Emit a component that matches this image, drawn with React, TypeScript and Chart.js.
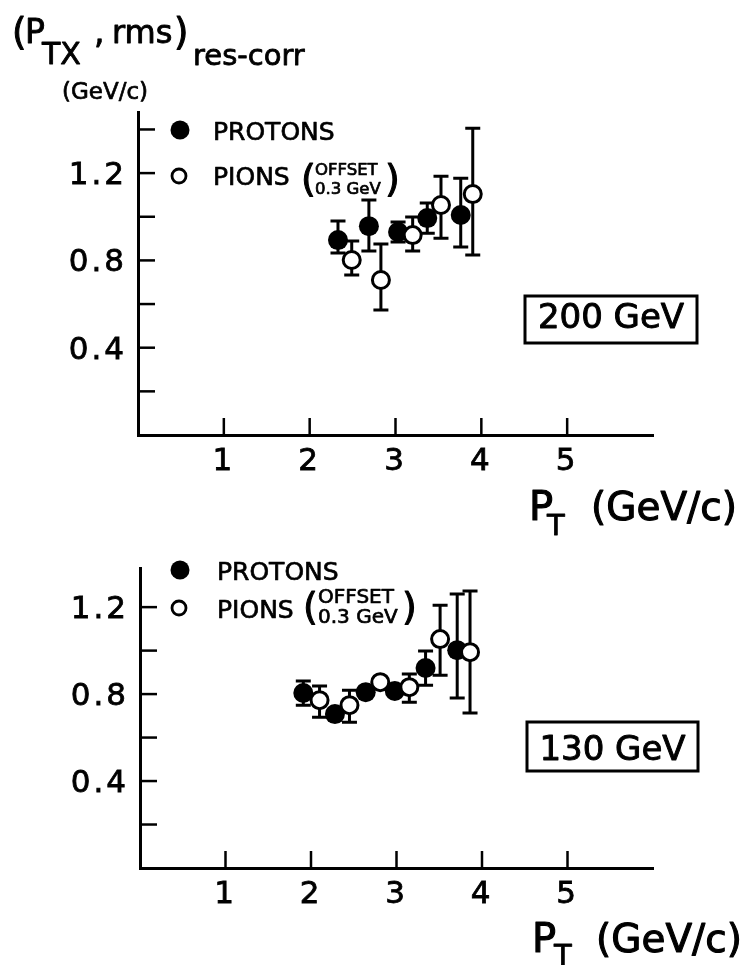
import React, { useEffect, useRef } from "react";
import { Chart, registerables } from "chart.js";
Chart.register(...registerables);

// ---------- data ----------
const X_TICK_LABELS = ["1", "2", "3", "4", "5"];
const Y_TICK_LABELS = ["0.4", "0.8", "1.2"];
const Y_TICK_MARKS_200 = [0.2, 0.4, 0.6, 0.8, 1.0, 1.2, 1.4];
const Y_TICK_MARKS_130 = [0.2, 0.4, 0.6, 0.8, 1.0, 1.2];
const X_TICK_MARKS = [1, 2, 3, 4, 5];

// 200 GeV panel
const PROTON200_X = [2.33, 2.69, 3.03, 3.37, 3.76];
const PROTON200_Y = [0.893, 0.957, 0.93, 0.994, 1.008];
const PROTON200_LO = [0.834, 0.843, 0.884, 0.925, 0.861];
const PROTON200_HI = [0.98, 1.077, 0.976, 1.063, 1.177];
const PION200_X = [2.49, 2.83, 3.2, 3.53, 3.9];
const PION200_Y = [0.802, 0.71, 0.916, 1.054, 1.104];
const PION200_LO = [0.733, 0.573, 0.843, 0.902, 0.825];
const PION200_HI = [0.889, 0.875, 0.999, 1.186, 1.406];

// 130 GeV panel
const PROTON130_X = [1.91, 2.28, 2.64, 2.98, 3.34, 3.71];
const PROTON130_Y = [0.805, 0.708, 0.809, 0.814, 0.92, 1.002];
const PROTON130_LO = [0.749, 0.708, 0.809, 0.814, 0.841, 0.782];
const PROTON130_HI = [0.86, 0.708, 0.809, 0.814, 0.998, 1.26];
const PION130_X = [2.1, 2.45, 2.81, 3.15, 3.51, 3.86];
const PION130_Y = [0.772, 0.749, 0.855, 0.832, 1.053, 0.993];
const PION130_LO = [0.694, 0.671, 0.855, 0.763, 0.887, 0.713];
const PION130_HI = [0.837, 0.818, 0.855, 0.892, 1.209, 1.274];

const FONT = '"DejaVu Sans", sans-serif';
const W = 747;
const H = 965;

function txt(ctx: CanvasRenderingContext2D, s: string, x: number, y: number, size: number, weight = "normal", align: CanvasTextAlign = "left") {
  ctx.save();
  (ctx as any).letterSpacing = "0px";
  ctx.font = `${weight} ${size}px ${FONT}`;
  ctx.fillStyle = "#000";
  ctx.strokeStyle = "#000";
  ctx.lineWidth = Math.max(0.7, size / 36);
  ctx.lineJoin = "round";
  ctx.textAlign = align;
  ctx.textBaseline = "alphabetic";
  ctx.fillText(s, x, y);
  ctx.strokeText(s, x, y);
  ctx.restore();
}

function marker(ctx: CanvasRenderingContext2D, x: number, y: number, r: number, filled: boolean) {
  ctx.save();
  ctx.beginPath();
  ctx.arc(x, y, r, 0, Math.PI * 2);
  if (filled) {
    ctx.fillStyle = "#000";
    ctx.fill();
  } else {
    ctx.fillStyle = "#fff";
    ctx.fill();
    ctx.lineWidth = 2.8;
    ctx.strokeStyle = "#000";
    ctx.stroke();
  }
  ctx.restore();
}

type Panel = {
  left: number; top: number; right: number; bottom: number;
  yMax: number; yMarks: number[];
  protons: { x: number[]; y: number[]; lo: number[]; hi: number[] };
  pions: { x: number[]; y: number[]; lo: number[]; hi: number[] };
  annotate: (ctx: CanvasRenderingContext2D) => void;
};

function legend(ctx: CanvasRenderingContext2D, o: { py: number; pb: number; iy: number; ib: number; parenX: number; fx: number; fs: number; offB: number; gevB: number; closeX: number; parenB: number; parenS: number; textX: number }) {
  marker(ctx, 180, o.py, 9.5, true);
  txt(ctx, "PROTONS", o.textX, o.pb, 25);
  marker(ctx, 179, o.iy, 7, false);
  txt(ctx, "PIONS", o.textX, o.ib, 25);
  txt(ctx, "(", o.parenX, o.parenB, o.parenS);
  txt(ctx, "OFFSET", o.fx, o.offB, o.fs);
  txt(ctx, "0.3 GeV", o.fx, o.gevB, o.fs);
  txt(ctx, ")", o.closeX, o.parenB, o.parenS);
}

function box(ctx: CanvasRenderingContext2D, label: string, x: number, y: number, w: number, h: number, base: number) {
  ctx.save();
  ctx.lineWidth = 3;
  ctx.strokeStyle = "#000";
  ctx.strokeRect(x, y, w, h);
  ctx.restore();
  txt(ctx, label, x + w / 2, base, 34, "normal", "center");
}

const PANEL_200: Panel = {
  left: 138, top: 112, right: 653, bottom: 435,
  yMax: 1.48, yMarks: Y_TICK_MARKS_200,
  protons: { x: PROTON200_X, y: PROTON200_Y, lo: PROTON200_LO, hi: PROTON200_HI },
  pions: { x: PION200_X, y: PION200_Y, lo: PION200_LO, hi: PION200_HI },
  annotate: (ctx) => {
    // y-axis title
    txt(ctx, "(", 12, 45, 37);
    txt(ctx, "P", 25, 43, 33);
    txt(ctx, "TX", 42, 64, 30);
    txt(ctx, ",", 94, 43, 33);
    txt(ctx, "rms", 112, 43, 32);
    txt(ctx, ")", 174, 45, 37);
    txt(ctx, "res-corr", 193, 65, 29);
    txt(ctx, "(GeV/c)", 62, 99, 23);
    legend(ctx, { py: 130, pb: 140, iy: 176, ib: 185, textX: 213, parenX: 301, parenB: 191, parenS: 38, fx: 315, fs: 16.5, offB: 175, gevB: 194, closeX: 385 });
    box(ctx, "200 GeV", 525, 296, 172, 47, 328);
    // x-axis title
    txt(ctx, "P", 529, 520, 40);
    txt(ctx, "T", 547, 535, 29);
    txt(ctx, "(GeV/c)", 591, 520, 39);
  },
};

const PANEL_130: Panel = {
  left: 140, top: 568, right: 653, bottom: 868,
  yMax: 1.38, yMarks: Y_TICK_MARKS_130,
  protons: { x: PROTON130_X, y: PROTON130_Y, lo: PROTON130_LO, hi: PROTON130_HI },
  pions: { x: PION130_X, y: PION130_Y, lo: PION130_LO, hi: PION130_HI },
  annotate: (ctx) => {
    legend(ctx, { py: 570, pb: 580, iy: 608, ib: 618, textX: 217, parenX: 303, parenB: 619, parenS: 38, fx: 318, fs: 20, offB: 603, gevB: 623, closeX: 402 });
    box(ctx, "130 GeV", 527, 722, 171, 49, 760);
    txt(ctx, "P", 532, 952, 40);
    txt(ctx, "T", 554, 965, 29);
    txt(ctx, "(GeV/c)", 596, 952, 39);
  },
};

const panelPlugin = (panel: Panel) => ({
  id: "panelDeco",
  beforeDraw(chart: any) {
    (chart.ctx as any).letterSpacing = "3px";
  },
  beforeDatasetDraw(chart: any, args: any) {
    const ds = chart.data.datasets[args.index];
    const ys = chart.scales.y;
    const ctx: CanvasRenderingContext2D = chart.ctx;
    ctx.save();
    ctx.strokeStyle = "#000";
    ctx.lineWidth = 3;
    args.meta.data.forEach((pt: any, i: number) => {
      const lo = ds.errLo[i];
      const hi = ds.errHi[i];
      if (lo === hi) return;
      const x = pt.x;
      const y1 = ys.getPixelForValue(hi);
      const y2 = ys.getPixelForValue(lo);
      ctx.beginPath();
      ctx.moveTo(x, y1);
      ctx.lineTo(x, y2);
      ctx.moveTo(x - 7.5, y1);
      ctx.lineTo(x + 7.5, y1);
      ctx.moveTo(x - 7.5, y2);
      ctx.lineTo(x + 7.5, y2);
      ctx.stroke();
    });
    ctx.restore();
  },
  afterDraw(chart: any) {
    const ctx: CanvasRenderingContext2D = chart.ctx;
    const xs = chart.scales.x;
    const ys = chart.scales.y;
    const area = chart.chartArea;
    ctx.save();
    ctx.strokeStyle = "#000";
    ctx.lineWidth = 2.5;
    X_TICK_MARKS.forEach((v) => {
      const px = xs.getPixelForValue(v);
      ctx.beginPath();
      ctx.moveTo(px, area.bottom);
      ctx.lineTo(px, area.bottom - 17);
      ctx.stroke();
    });
    panel.yMarks.forEach((v) => {
      const py = ys.getPixelForValue(v);
      ctx.beginPath();
      ctx.moveTo(area.left, py);
      ctx.lineTo(area.left + 17, py);
      ctx.stroke();
    });
    ctx.restore();
    panel.annotate(ctx);
  },
});

function makeConfig(panel: Panel): any {
  const tickFont = { family: FONT, size: 31 };
  return {
    type: "scatter",
    data: {
      datasets: [
        {
          label: "PROTONS",
          data: panel.protons.x.map((x, i) => ({ x, y: panel.protons.y[i] })),
          errLo: panel.protons.lo,
          errHi: panel.protons.hi,
          order: 2,
          pointRadius: 10,
          pointBackgroundColor: "#000",
          pointBorderColor: "#000",
          pointBorderWidth: 0,
          showLine: false,
        },
        {
          label: "PIONS",
          data: panel.pions.x.map((x, i) => ({ x, y: panel.pions.y[i] })),
          errLo: panel.pions.lo,
          errHi: panel.pions.hi,
          order: 1,
          pointRadius: 8.5,
          pointBackgroundColor: "#fff",
          pointBorderColor: "#000",
          pointBorderWidth: 3,
          showLine: false,
        },
      ],
    },
    options: {
      responsive: false,
      animation: false,
      events: [],
      layout: { padding: { left: 0, top: panel.top, right: W - panel.right, bottom: H - panel.bottom - 50 } },
      plugins: { legend: { display: false }, tooltip: { enabled: false } },
      scales: {
        x: {
          type: "linear",
          min: 0,
          max: 6,
          afterFit: (s: any) => { s.height = 50; },
          border: { display: true, color: "#000", width: 3 },
          grid: { display: true, drawOnChartArea: false, drawTicks: false },
          ticks: {
            stepSize: 1,
            autoSkip: false,
            maxRotation: 0,
            padding: 8,
            color: "#000",
            textStrokeColor: "#000",
            textStrokeWidth: 0.8,
            font: tickFont,
            callback: (v: number) => (X_TICK_LABELS.includes(String(v)) ? String(v) : ""),
          },
        },
        y: {
          type: "linear",
          min: 0,
          max: panel.yMax,
          afterFit: (s: any) => { s.width = panel.left; },
          border: { display: true, color: "#000", width: 3 },
          grid: { display: true, drawOnChartArea: false, drawTicks: false },
          ticks: {
            stepSize: 0.2,
            autoSkip: false,
            padding: 11,
            labelOffset: 3,
            color: "#000",
            textStrokeColor: "#000",
            textStrokeWidth: 0.8,
            font: tickFont,
            callback: (v: number) => {
              if (Math.abs(v * 10 - Math.round(v * 10)) > 1e-6) return "";
              const s = (Math.round(v * 10) / 10).toFixed(1);
              return Y_TICK_LABELS.includes(s) ? s : "";
            },
          },
        },
      },
    },
    plugins: [panelPlugin(panel)],
  };
}

function PanelChart({ panel }: { panel: Panel }) {
  const ref = useRef<HTMLCanvasElement | null>(null);
  useEffect(() => {
    if (!ref.current) return;
    const chart = new Chart(ref.current, makeConfig(panel));
    return () => chart.destroy();
  }, [panel]);
  return (
    <canvas
      ref={ref}
      width={W}
      height={H}
      style={{ position: "absolute", left: 0, top: 0, width: W, height: H }}
    />
  );
}

export default function App() {
  return (
    <div style={{ position: "absolute", left: 0, top: 0, width: W, height: H, background: "#fff", overflow: "hidden" }}>
      <PanelChart panel={PANEL_200} />
      <PanelChart panel={PANEL_130} />
    </div>
  );
}
